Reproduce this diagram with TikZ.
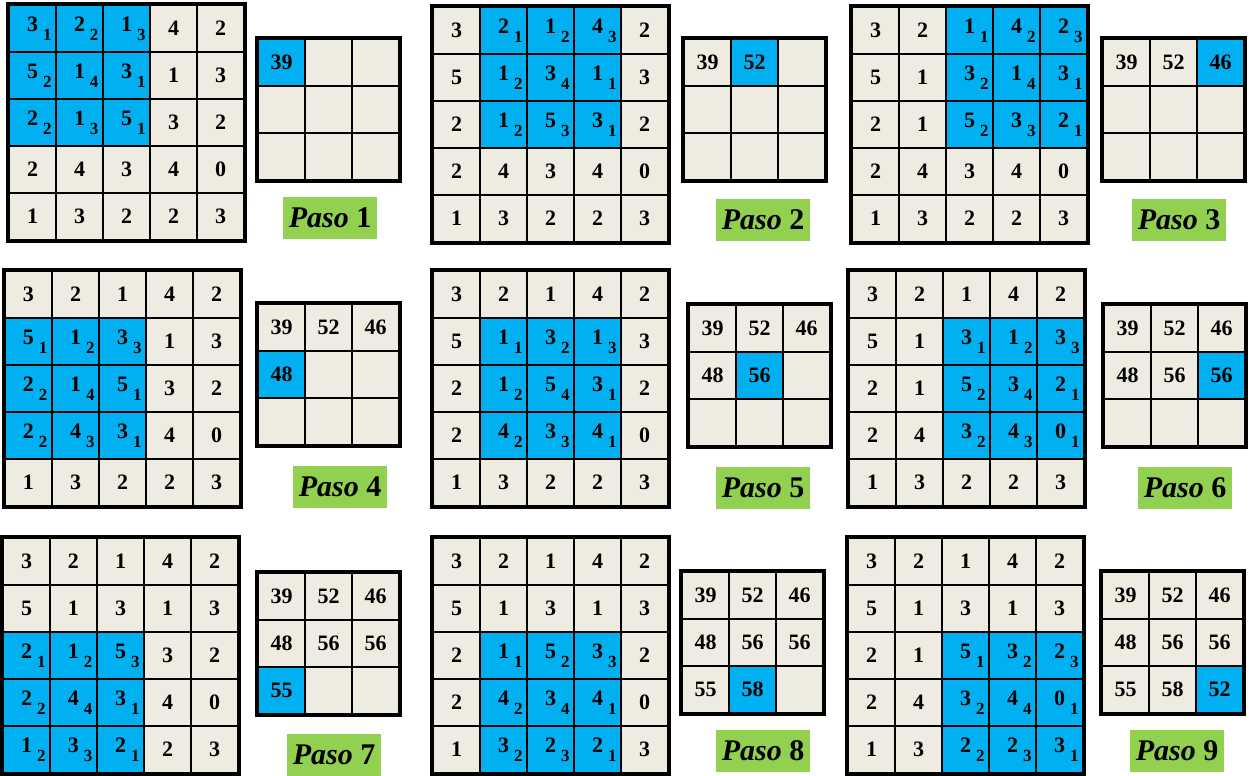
\documentclass[tikz,border=0pt]{standalone}
\usepackage{fontspec}
\setmainfont{Liberation Serif}
\definecolor{cblue}{HTML}{00B0F0}
\definecolor{cbeige}{HTML}{EEECE1}
\definecolor{cgreen}{HTML}{92D050}
\tikzset{
  every picture/.style={line width=1.2pt},
  cell/.style={draw=black, fill=cbeige, minimum size=23.5pt, inner sep=0pt, font=\rmfamily\fontsize{11}{13}\selectfont\bfseries},
  hot/.style={fill=cblue},
  frame/.style={draw=black, line width=1.9pt},
  paso/.style={fill=cgreen, minimum width=47pt, minimum height=21pt, inner sep=0pt, font=\rmfamily\fontsize{15}{17}\selectfont\bfseries},
}
\newcommand{\wsub}[1]{\rlap{\hspace{2.5pt}\raisebox{-4.5pt}{\fontsize{8.5}{9}\selectfont #1}}}

\begin{document}
\begin{tikzpicture}[x=0.5pt, y=-0.5pt]
  \useasboundingbox (0,0) rectangle (1249,776);
  \def\inputvals{{3,2,1,4,2,5,1,3,1,3,2,1,5,3,2,2,4,3,4,0,1,3,2,2,3}}
  \def\kernvals{{1,2,3,2,4,1,2,3,1}}
  \def\outvals{{39,52,46,48,56,56,55,58,52}}
  \foreach \p/\bx/\by/\sx/\sy/\lx/\ly in {
    1/9/5/258/39/330/218, 2/433/7/684/39/763/220, 3/852/7/1103/39/1179/220,
    4/5/271/258/304/340/487, 5/433/271/689/305/763/488, 6/849/271/1104/305/1185/488,
    7/3/538/258/573/334/755, 8/433/538/682/572/763/751, 9/848/538/1102/572/1177/751} {
    \pgfmathtruncatemacro\wr{int((\p-1)/3)}
    \pgfmathtruncatemacro\wc{mod(\p-1,3)}
    \pgfmathtruncatemacro\cur{\p-1}
    % input 5x5 with the 3x3 window
    \foreach \i in {0,...,4} \foreach \j in {0,...,4} {
      \pgfmathtruncatemacro\v{\inputvals[5*\i+\j]}
      \pgfmathtruncatemacro\inwin{(\i>=\wr) && (\i<=\wr+2) && (\j>=\wc) && (\j<=\wc+2)}
      \ifnum\inwin=1
        \pgfmathtruncatemacro\k{\kernvals[3*(\i-\wr)+\j-\wc]}
        \node[cell, hot] (b\p-\i-\j) at (\bx+47*\j+23.5, \by+47*\i+23.5) {\v\wsub{\k}};
      \else
        \node[cell] (b\p-\i-\j) at (\bx+47*\j+23.5, \by+47*\i+23.5) {\v};
      \fi
    }
    \draw[frame] (b\p-0-0.north west) rectangle (b\p-4-4.south east);
    % output 3x3
    \foreach \i in {0,1,2} \foreach \j in {0,1,2} {
      \pgfmathtruncatemacro\m{3*\i+\j}
      \pgfmathtruncatemacro\o{\outvals[\m]}
      \ifnum\m<\cur
        \node[cell] (s\p-\i-\j) at (\sx+47*\j+23.5, \sy+47*\i+23.5) {\o};
      \else\ifnum\m=\cur
        \node[cell, hot] (s\p-\i-\j) at (\sx+47*\j+23.5, \sy+47*\i+23.5) {\o};
      \else
        \node[cell] (s\p-\i-\j) at (\sx+47*\j+23.5, \sy+47*\i+23.5) {};
      \fi\fi
    }
    \draw[frame] (s\p-0-0.north west) rectangle (s\p-2-2.south east);
    \node[paso] (lab\p) at (\lx, \ly) {\textit{Paso} \p};
  }
\end{tikzpicture}
\end{document}
